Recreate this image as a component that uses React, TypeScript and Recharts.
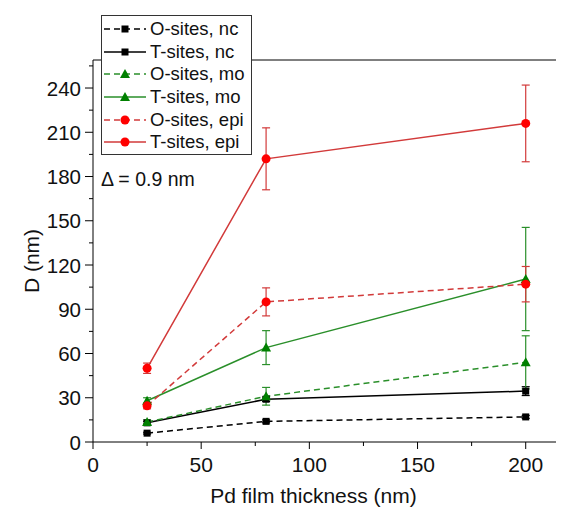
import { LineChart, Line, XAxis, YAxis, ErrorBar, ReferenceLine, Legend } from 'recharts'

// film thickness (nm)
const THICKNESS = [25, 80, 200]

// D (nm) per site / microstructure, with error bars
const O_NC = [6, 14, 17]
const O_NC_ERR = [0.6, 1, 1]
const T_NC = [13, 29, 34.5]
const T_NC_ERR = [1, 1.5, 3]
const O_MO = [13.5, 31, 54]
const O_MO_ERR = [1.5, 6, 18]
const T_MO = [28, 64, 110.5]
const T_MO_ERR = [2, 11.5, 35]
const O_EPI = [24.5, 95, 107]
const O_EPI_ERR = [2, 9.5, 12]
const T_EPI = [50, 192, 216]
const T_EPI_ERR = [3.5, 21, 26]

const X_TICKS = [0, 25, 50, 75, 100, 125, 150, 175, 200]
const Y_TICKS = [0, 15, 30, 45, 60, 75, 90, 105, 120, 135, 150, 165, 180, 195, 210, 225, 240, 255]

const FONT = 'Arial, "Liberation Sans", sans-serif'

const BLACK = '#000000'
const GREEN_LINE = '#2a8f2a'
const GREEN_MARK = '#008000'
const RED_LINE = '#d23a3a'
const RED_MARK = '#ff0000'

const data = THICKNESS.map((t, i) => ({
  t,
  oNc: O_NC[i], oNcErr: O_NC_ERR[i],
  tNc: T_NC[i], tNcErr: T_NC_ERR[i],
  oMo: O_MO[i], oMoErr: O_MO_ERR[i],
  tMo: T_MO[i], tMoErr: T_MO_ERR[i],
  oEpi: O_EPI[i], oEpiErr: O_EPI_ERR[i],
  tEpi: T_EPI[i], tEpiErr: T_EPI_ERR[i],
}))

type Shape = 'square' | 'triangle' | 'circle'

const SERIES = [
  { key: 'oNc', name: 'O-sites, nc', line: BLACK, mark: BLACK, shape: 'square' as Shape, dashed: true },
  { key: 'tNc', name: 'T-sites, nc', line: BLACK, mark: BLACK, shape: 'square' as Shape, dashed: false },
  { key: 'oMo', name: 'O-sites, mo', line: GREEN_LINE, mark: GREEN_MARK, shape: 'triangle' as Shape, dashed: true },
  { key: 'tMo', name: 'T-sites, mo', line: GREEN_LINE, mark: GREEN_MARK, shape: 'triangle' as Shape, dashed: false },
  { key: 'oEpi', name: 'O-sites, epi', line: RED_LINE, mark: RED_MARK, shape: 'circle' as Shape, dashed: true },
  { key: 'tEpi', name: 'T-sites, epi', line: RED_LINE, mark: RED_MARK, shape: 'circle' as Shape, dashed: false },
]

function Marker({ cx, cy, shape, color }: { cx: number; cy: number; shape: Shape; color: string }) {
  if (shape === 'square') return <rect x={cx - 3.5} y={cy - 3.5} width={7} height={7} fill={color} />
  if (shape === 'triangle')
    return <polygon points={`${cx},${cy - 5} ${cx - 5},${cy + 4} ${cx + 5},${cy + 4}`} fill={color} />
  return <circle cx={cx} cy={cy} r={4.5} fill={color} />
}

function YTick(props: any) {
  const { x, y, payload } = props
  const major = payload.value % 30 === 0
  return (
    <g>
      <line x1={x} x2={x - (major ? 8 : 4)} y1={y} y2={y} stroke="#000" />
      {major && (
        <text x={x - 12} y={y} textAnchor="end" dominantBaseline="central" fontSize={20.5} fontFamily={FONT} fill="#111">
          {payload.value}
        </text>
      )}
    </g>
  )
}

function XTick(props: any) {
  const { x, y, payload } = props
  const major = payload.value % 50 === 0
  return (
    <g>
      <line x1={x} x2={x} y1={y} y2={y + (major ? 7 : 4)} stroke="#000" />
      {major && (
        <text x={x} y={y + 30} textAnchor="middle" fontSize={21} fontFamily={FONT} fill="#111">
          {payload.value}
        </text>
      )}
    </g>
  )
}

function YTitle() {
  return (
    <text x={31} y={261} transform="rotate(-90 31 261)" textAnchor="middle" dominantBaseline="central" fontSize={21} fontFamily={FONT} fill="#111">
      D (nm)
    </text>
  )
}

function LegendBox() {
  return (
    <div
      style={{
        border: '1px solid #333',
        background: '#fff',
        width: 151,
        height: 140,
        boxSizing: 'border-box',
        paddingTop: 2,
        fontFamily: FONT,
        fontSize: 18.5,
        color: '#111',
      }}
    >
      {SERIES.map((s) => (
        <div key={s.key} style={{ display: 'flex', alignItems: 'center', height: 22.6 }}>
          <svg width={48} height={22} style={{ flex: 'none' }}>
            <line x1={2} x2={44} y1={11} y2={11} stroke={s.line} strokeWidth={1.5} strokeDasharray={s.dashed ? '6 4' : undefined} />
            <Marker cx={23} cy={11} shape={s.shape} color={s.mark} />
          </svg>
          <span style={{ whiteSpace: 'nowrap' }}>{s.name}</span>
        </div>
      ))}
    </div>
  )
}

export default function App() {
  return (
    <div style={{ position: 'absolute', left: 0, top: 0, background: '#fff' }}>
      <LineChart width={561} height={511} data={data} margin={{ top: 60, right: 5, bottom: 0, left: 0 }}>
        <XAxis
          dataKey="t"
          type="number"
          domain={[0, 214]}
          ticks={X_TICKS}
          interval={0}
          height={69}
          tickSize={0}
          tickMargin={0}
          tickLine={false}
          tick={<XTick />}
          axisLine={{ stroke: '#000' }}
          label={{ value: 'Pd film thickness (nm)', position: 'center', dx: -11, dy: 19, fontSize: 21, fontFamily: FONT, fill: '#111' }}
        />
        <YAxis
          type="number"
          domain={[0, 259]}
          ticks={Y_TICKS}
          interval={0}
          width={93}
          tickSize={0}
          tickMargin={0}
          tickLine={false}
          tick={<YTick />}
          axisLine={{ stroke: '#000' }}
          label={{ content: () => <YTitle /> }}
        />
        <ReferenceLine y={259} stroke="#000" strokeWidth={1} />
        {SERIES.map((s) => (
          <Line
            key={s.key}
            dataKey={s.key}
            name={s.name}
            type="linear"
            stroke={s.line}
            strokeWidth={1.5}
            strokeDasharray={s.dashed ? '6 4' : undefined}
            isAnimationActive={false}
            dot={(p: any) => <Marker key={`${s.key}-${p.index}`} cx={p.cx} cy={p.cy} shape={s.shape} color={s.mark} />}
            activeDot={false}
          >
            <ErrorBar dataKey={`${s.key}Err`} direction="y" width={4} stroke={s.line} strokeWidth={1.2} isAnimationActive={false} />
          </Line>
        ))}
        <Legend
          layout="vertical"
          align="center"
          verticalAlign="middle"
          content={<LegendBox />}
          wrapperStyle={{ left: 101, top: 15, width: 151, height: 140 }}
        />
      </LineChart>
      <div style={{ position: 'absolute', left: 101, top: 168, fontFamily: FONT, fontSize: 19.5, color: '#111', whiteSpace: 'nowrap' }}>
        Δ = 0.9 nm
      </div>
    </div>
  )
}
